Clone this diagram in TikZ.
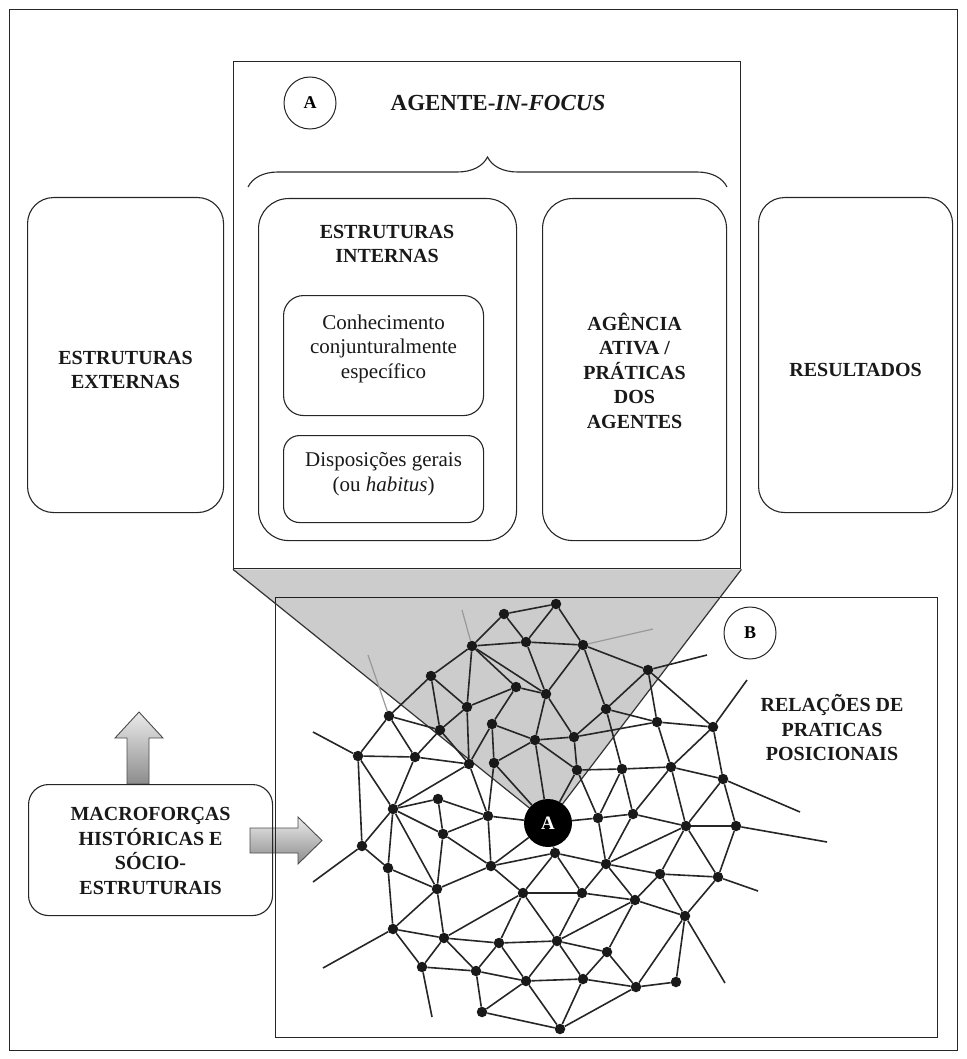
\documentclass[tikz,border=0pt]{standalone}
\usepackage{fontspec}
\setmainfont{Liberation Serif}
\usetikzlibrary{positioning}
\usetikzlibrary{decorations.pathreplacing}

\tikzset{
  panel/.style={draw=black!85, line width=1.4pt, inner sep=0pt, anchor=north west},
  roundbox/.style={draw=black!85, line width=1.1pt, rounded corners=26pt, inner sep=0pt, anchor=north west},
  hd/.style={font=\bfseries\fontsize{20}{24.5}\selectfont, align=center, text=black!90},
  txt/.style={font=\fontsize{21}{24.5}\selectfont, align=center, text=black!90},
  tag/.style={circle, draw=black!85, line width=1pt, fill=white, minimum size=52pt, inner sep=0pt,
    font=\bfseries\fontsize{18}{18}\selectfont},
  dot/.style={circle, fill=black!90, inner sep=0pt, minimum size=10.5pt},
  bigdot/.style={circle, fill=black, inner sep=0pt, minimum size=48pt, text=white,
    font=\bfseries\fontsize{19}{19}\selectfont},
  link/.style={draw=black!85, line width=1.6pt},
  faint/.style={draw=black!40, line width=1.2pt},
  fat/.style={top color=black!8, bottom color=black!45, draw=black!70, line width=0.9pt}
}

\begin{document}
\begin{tikzpicture}[x=1pt, y=-1pt]
  \useasboundingbox (0,0) rectangle (966,1059);

  \node[panel, minimum width=948pt, minimum height=1041pt] (frame) at (9,9) {};

  % fat arrows out of the macro box
  \coordinate (upfoot) at (138,784);
  \coordinate (rightfoot) at (250,840.5);
  \shade[fat] (upfoot) ++(-11,0) -- ++(0,-46) -- ++(-12,0) -- ++(24,-26) -- ++(24,26)
    -- ++(-14,0) -- ++(0,46) -- cycle;
  \shade[fat] (rightfoot) ++(0,-12.5) -- ++(48,0) -- ++(0,-11) -- ++(24,23.5) -- ++(-24,23.5)
    -- ++(0,-11) -- ++(-48,0) -- cycle;

  % boxes
  \node[roundbox, minimum width=196pt, minimum height=315pt] (ext) at (27,197) {};
  \node[panel, minimum width=507pt, minimum height=507pt] (focus) at (233,61) {};
  \node[roundbox, rounded corners=30pt, minimum width=258pt, minimum height=342pt] (intern) at (258,198) {};
  \node[roundbox, rounded corners=20pt, minimum width=200pt, minimum height=120pt] (know) at (283,295) {};
  \node[roundbox, rounded corners=16pt, minimum width=200pt, minimum height=87pt] (disp) at (283,435) {};
  \node[roundbox, rounded corners=30pt, minimum width=184pt, minimum height=342pt] (agency) at (542,198) {};
  \node[roundbox, minimum width=194pt, minimum height=315pt] (result) at (758,197) {};
  \node[roundbox, rounded corners=20pt, minimum width=244pt, minimum height=131pt] (macro) at (28,784) {};
  \node[panel, minimum width=662pt, minimum height=440pt] (field) at (275,597) {};

  % texts
  \node[tag] (tagA) at (310,103) {A};
  \node[hd, font=\bfseries\fontsize{23}{26}\selectfont] (title) at (498,103) {AGENTE-\textit{IN-FOCUS}};
  \draw[draw=black!85, line width=1.1pt, decorate, decoration={brace, amplitude=30pt}]
    (248,187) -- (727,187);
  \node[hd] (exttxt) at ([yshift=-15pt]ext.center) {ESTRUTURAS\\EXTERNAS};
  \node[hd] (inttxt) at (387,244) {ESTRUTURAS\\INTERNAS};
  \node[txt] (knowtxt) at ([yshift=7pt]know.center) {Conhecimento\\conjunturalmente\\específico};
  \node[txt] (disptxt) at ([yshift=5pt]disp.center) {Disposições gerais\\(ou \textit{habitus})};
  \node[hd] (agencytxt) at ([yshift=-1pt]agency.center) {AGÊNCIA\\ATIVA /\\PRÁTICAS\\DOS\\AGENTES};
  \node[hd] (resulttxt) at ([yshift=-15pt]result.center) {RESULTADOS};
  \node[hd] (macrotxt) at ([yshift=-1pt]macro.center) {MACROFORÇAS\\HISTÓRICAS E\\SÓCIO-\\ESTRUTURAIS};
  \node[tag] (tagB) at (750,633) {B};
  \node[hd] (reltxt) at (832,728) {RELAÇÕES DE\\PRATICAS\\POSICIONAIS};

  % zoom cone from the agent to the upper box
  \coordinate (ac) at (548,823);
  \fill[black, fill opacity=0.2] (focus.south west) -- (focus.south east) -- (ac) -- cycle;
  \draw[draw=black!80, line width=1.2pt] (focus.south west) -- (ac) -- (focus.south east);

  % network
  \node[bigdot] (agent) at (ac) {A};
  \foreach \i/\x/\y in {1/556/604, 2/504/614, 3/472/646, 4/526/642, 5/583/645, 6/431/676,
      7/516/687, 8/546/694, 9/648/670, 10/467/707, 11/389/716, 12/440/730, 13/492/724,
      14/606/709, 15/657/722, 16/713/727, 17/535/740, 18/574/737, 19/358/756, 20/415/757,
      21/469/764, 22/494/763, 23/577/770, 24/622/769, 25/671/767, 26/723/779, 27/438/799,
      28/393/809, 29/488/816, 31/598/818, 32/633/814, 33/686/826, 34/736/826, 35/443/834,
      36/362/846, 37/555/853, 38/388/868, 39/491/866, 40/606/864, 41/660/874, 42/718/877,
      43/437/889, 44/523/893, 45/582/893, 46/635/900, 47/685/916, 48/393/929, 49/444/938,
      50/499/943, 51/557/941, 52/607/952, 53/422/967, 54/476/971, 55/526/981, 56/583/979,
      57/636/987, 58/676/982, 59/482/1012, 60/560/1029}
    \node[dot] (n\i) at (\x,\y) {};

  \foreach \a/\b in {1/2, 1/4, 1/5, 2/3, 2/4, 3/4, 3/6, 3/7, 3/8, 3/10, 4/5, 4/8, 5/8, 5/9,
      5/14, 6/10, 6/11, 6/12, 7/8, 7/10, 7/13, 8/17, 8/18, 9/14, 9/15, 9/16, 10/12, 10/21,
      11/12, 11/19, 11/20, 12/20, 12/21, 13/17, 13/21, 13/22, 14/15, 14/18, 14/24, 15/16,
      15/18, 15/25, 16/25, 16/26, 17/18, 17/22, 17/23, 18/23, 19/20, 19/28, 19/36, 20/21,
      20/28, 21/28, 21/29, 22/29, 23/24, 23/31, 24/25, 24/31, 24/32, 25/26, 25/32, 25/33,
      26/33, 26/34, 27/28, 27/29, 27/35, 28/35, 28/36, 28/38, 28/43, 29/35, 29/39, 31/32,
      31/40, 32/33, 32/40, 33/34, 33/40, 33/41, 33/42, 34/42, 35/39, 35/43, 36/38, 37/39,
      37/40, 37/44, 37/45, 38/43, 38/48, 39/43, 39/44, 40/41, 40/45, 40/46, 41/42, 41/46,
      41/47, 42/47, 43/48, 43/49, 44/45, 44/49, 44/50, 44/51, 45/46, 45/51, 46/47, 46/51,
      46/52, 47/57, 47/58, 48/49, 48/53, 49/50, 49/53, 49/54, 50/51, 50/54, 50/55, 51/52,
      51/55, 51/56, 52/56, 52/57, 53/54, 54/55, 54/59, 55/56, 55/59, 55/60, 56/57, 56/60,
      57/58, 57/60, 59/60}
    \draw[link] (n\a) -- (n\b);

  \foreach \a in {17, 22, 23, 29, 31, 37, 39}
    \draw[link] (n\a) -- (agent);

  % loose ends
  \foreach \i/\x/\y in {9/707/655, 16/747/680, 19/313/732, 26/800/812, 34/827/842,
      36/313/882, 42/758/891, 47/725/983, 48/323/968, 53/432/1017} {
    \coordinate (s\i) at (\x,\y);
    \draw[link] (n\i) -- (s\i);
  }
  \foreach \i/\x/\y in {3/462/610, 11/368/655, 5/653/629} {
    \coordinate (s\i) at (\x,\y);
    \draw[faint] (n\i) -- (s\i);
  }
\end{tikzpicture}
\end{document}
